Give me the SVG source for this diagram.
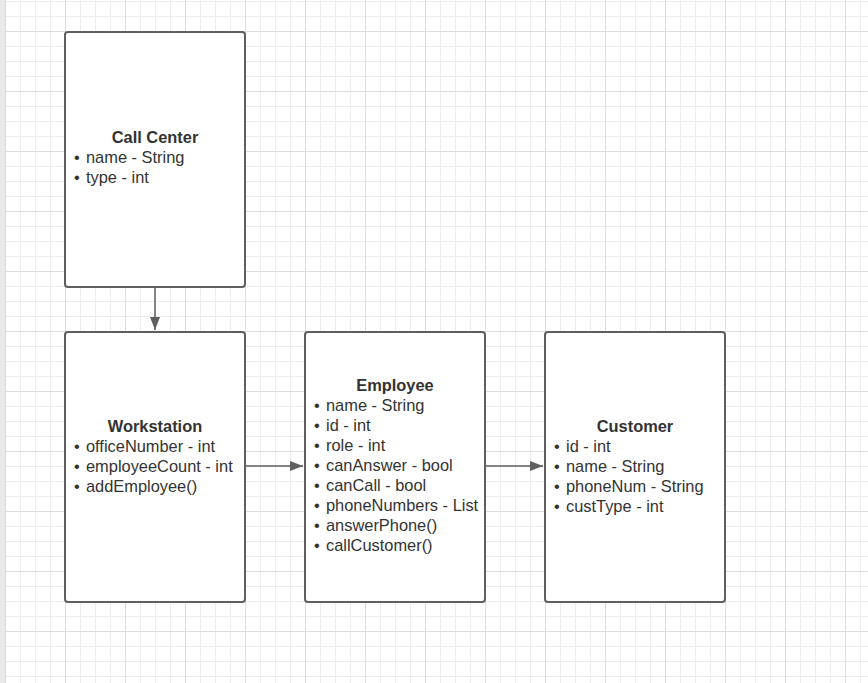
<svg xmlns="http://www.w3.org/2000/svg" width="868" height="683" viewBox="0 0 868 683">
<defs>
<pattern id="minor" x="5" y="1" width="15" height="15" patternUnits="userSpaceOnUse">
<path d="M0.5 0V15M0 0.5H15" stroke="#ececec" stroke-width="1" fill="none"/>
</pattern>
<pattern id="major" x="5" y="31" width="60" height="60" patternUnits="userSpaceOnUse">
<path d="M0.5 0V60M0 0.5H60" stroke="#dedede" stroke-width="1" fill="none"/>
</pattern>
<marker id="arrow" markerUnits="userSpaceOnUse" markerWidth="14" markerHeight="12" refX="13" refY="6" orient="auto">
<path d="M0 1L13 6L0 11Z" fill="#5f5f5f"/>
</marker>
<style>
.box{fill:#fff;stroke:#5f5f5f;stroke-width:2}
.title{font-family:"Liberation Sans",Arial,sans-serif;font-size:16.4px;font-weight:bold;fill:#333;text-anchor:middle}
.item{font-family:"Liberation Sans",Arial,sans-serif;font-size:16.4px;fill:#333}
.conn{stroke:#5f5f5f;stroke-width:1.5;fill:none;marker-end:url(#arrow)}
</style>
</defs>
<rect x="0" y="0" width="868" height="683" fill="#fff"/>
<rect x="0" y="0" width="868" height="683" fill="url(#minor)"/>
<rect x="0" y="0" width="868" height="683" fill="url(#major)"/>
<rect x="0" y="0" width="5" height="683" fill="#e9e9e9"/>
<line x1="5.5" y1="0" x2="5.5" y2="683" stroke="#dadada"/>

<g id="connectors">
<line class="conn" x1="155" y1="288" x2="155" y2="330"/>
<line class="conn" x1="246" y1="466" x2="303" y2="466"/>
<line class="conn" x1="486" y1="466" x2="543" y2="466"/>
</g>

<g id="call-center">
<rect class="box" x="65" y="32" width="180" height="255" rx="3"/>
<text class="title" x="155" y="142.5">Call Center</text>
<text class="item" x="74" y="162.5">• <tspan x="86">name - String</tspan></text>
<text class="item" x="74" y="182.5">• <tspan x="86">type - int</tspan></text>
</g>

<g id="workstation">
<rect class="box" x="65" y="332" width="180" height="270" rx="3"/>
<text class="title" x="155" y="431.5">Workstation</text>
<text class="item" x="74" y="451.5">• <tspan x="86">officeNumber - int</tspan></text>
<text class="item" x="74" y="471.5">• <tspan x="86">employeeCount - int</tspan></text>
<text class="item" x="74" y="491.5">• <tspan x="86">addEmployee()</tspan></text>
</g>

<g id="employee">
<rect class="box" x="305" y="332" width="180" height="270" rx="3"/>
<text class="title" x="395" y="390.5">Employee</text>
<text class="item" x="314" y="410.5">• <tspan x="326">name - String</tspan></text>
<text class="item" x="314" y="430.5">• <tspan x="326">id - int</tspan></text>
<text class="item" x="314" y="450.5">• <tspan x="326">role - int</tspan></text>
<text class="item" x="314" y="470.5">• <tspan x="326">canAnswer - bool</tspan></text>
<text class="item" x="314" y="490.5">• <tspan x="326">canCall - bool</tspan></text>
<text class="item" x="314" y="510.5">• <tspan x="326">phoneNumbers - List</tspan></text>
<text class="item" x="314" y="530.5">• <tspan x="326">answerPhone()</tspan></text>
<text class="item" x="314" y="550.5">• <tspan x="326">callCustomer()</tspan></text>
</g>

<g id="customer">
<rect class="box" x="545" y="332" width="180" height="270" rx="3"/>
<text class="title" x="635" y="431.5">Customer</text>
<text class="item" x="554" y="451.5">• <tspan x="566">id - int</tspan></text>
<text class="item" x="554" y="471.5">• <tspan x="566">name - String</tspan></text>
<text class="item" x="554" y="491.5">• <tspan x="566">phoneNum - String</tspan></text>
<text class="item" x="554" y="511.5">• <tspan x="566">custType - int</tspan></text>
</g>
</svg>
